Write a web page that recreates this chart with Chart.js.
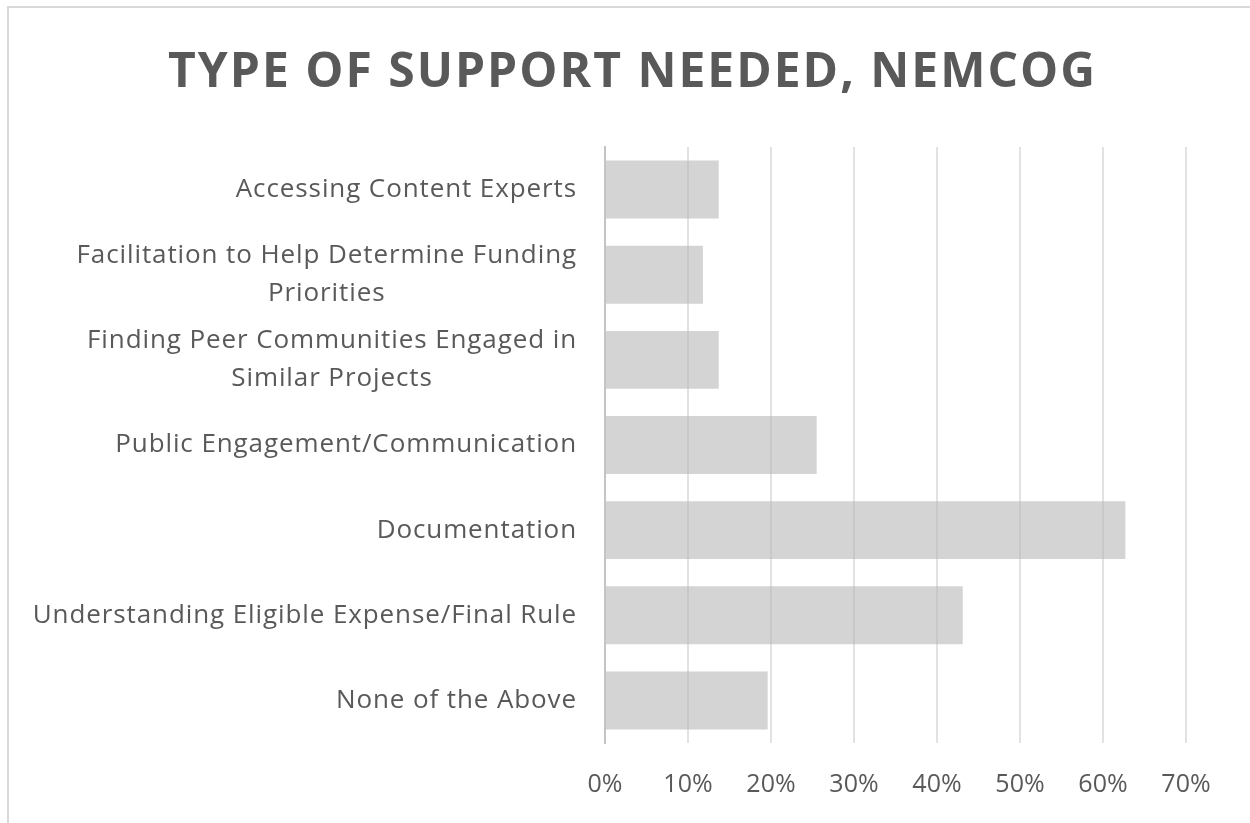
<!DOCTYPE html>
<html>
<head>
<meta charset="utf-8">
<script src="https://cdn.jsdelivr.net/npm/chart.js@4.4.1/dist/chart.umd.min.js"></script>
<style>
  html, body { margin: 0; padding: 0; background: #fff; overflow: hidden; }
  #frame { position: absolute; left: 7px; top: 6px; width: 1245px; height: 815px;
           border-left: 2px solid #d9d9d9; border-top: 2px solid #d9d9d9; }
  #wrap { position: absolute; left: 0; top: 0; width: 1245px; height: 815px; }
</style>
</head>
<body>
<div id="frame"><div id="wrap"><canvas id="c"></canvas></div></div>
<script>
// ---- data ----
const categories = [
  ["Accessing Content Experts"],
  ["Facilitation to Help Determine Funding", "Priorities"],
  ["Finding Peer Communities Engaged in", "Similar Projects"],
  ["Public Engagement/Communication"],
  ["Documentation"],
  ["Understanding Eligible Expense/Final Rule"],
  ["None of the Above"]
];
const shares = [13.7, 11.8, 13.7, 25.5, 62.7, 43.1, 19.6];
const xTicks = [0, 10, 20, 30, 40, 50, 60, 70];
const titleText = "TYPE OF SUPPORT NEEDED, NEMCOG";

const FONT = "'Open Sans', 'Noto Sans', sans-serif";
const TEXT = "#595959";

const textPlugin = {
  id: 'textPlugin',
  afterDraw(chart) {
    const ctx = chart.ctx, y = chart.scales.y, x = chart.scales.x;
    ctx.save();
    // title
    ctx.font = "bold 48px " + FONT;
    ctx.letterSpacing = "2px";
    ctx.fillStyle = TEXT;
    ctx.textAlign = "center";
    ctx.textBaseline = "middle";
    ctx.fillText(titleText, chart.width / 2 + 1, 65);
    // category labels
    ctx.font = "26px " + FONT;
    ctx.letterSpacing = "0.9px";
    const rightEdge = x.left - 28;
    const lh = 38;
    categories.forEach((lines, i) => {
      const cy = y.getPixelForValue(i);
      const w = Math.max(...lines.map(l => ctx.measureText(l).width));
      const cx = rightEdge - w / 2;
      const y0 = cy - (lines.length - 1) * lh / 2;
      lines.forEach((l, k) => ctx.fillText(l, cx, y0 + k * lh));
    });
    ctx.restore();
  }
};

new Chart(document.getElementById('c'), {
  type: 'bar',
  data: {
    labels: categories.map(c => c.join(' ')),
    datasets: [{
      data: shares,
      backgroundColor: 'rgba(183,183,183,0.6)',
      borderWidth: 0,
      barPercentage: 0.68,
      categoryPercentage: 1.0
    }]
  },
  options: {
    indexAxis: 'y',
    responsive: true,
    maintainAspectRatio: false,
    animation: false,
    layout: { padding: { left: 0, right: 68, top: 139, bottom: 28 } },
    plugins: {
      legend: { display: false },
      tooltip: { enabled: false },
      title: { display: false }
    },
    scales: {
      x: {
        min: xTicks[0],
        max: xTicks[xTicks.length - 1],
        afterBuildTicks(s) { s.ticks = xTicks.map(v => ({ value: v })); },
        ticks: {
          callback: v => v + '%',
          color: TEXT,
          font: { family: FONT, size: 25 },
          padding: 27,
          maxRotation: 0
        },
        grid: { color: '#e2e2e2', lineWidth: 2, drawTicks: false },
        border: { display: false },
        afterFit(s) { s.height = 52; }
      },
      y: {
        ticks: { display: false },
        grid: { display: false },
        border: { display: true, color: '#c4c4c4', width: 2 },
        afterFit(s) { s.width = 596; }
      }
    }
  },
  plugins: [textPlugin]
});
</script>
</body>
</html>
